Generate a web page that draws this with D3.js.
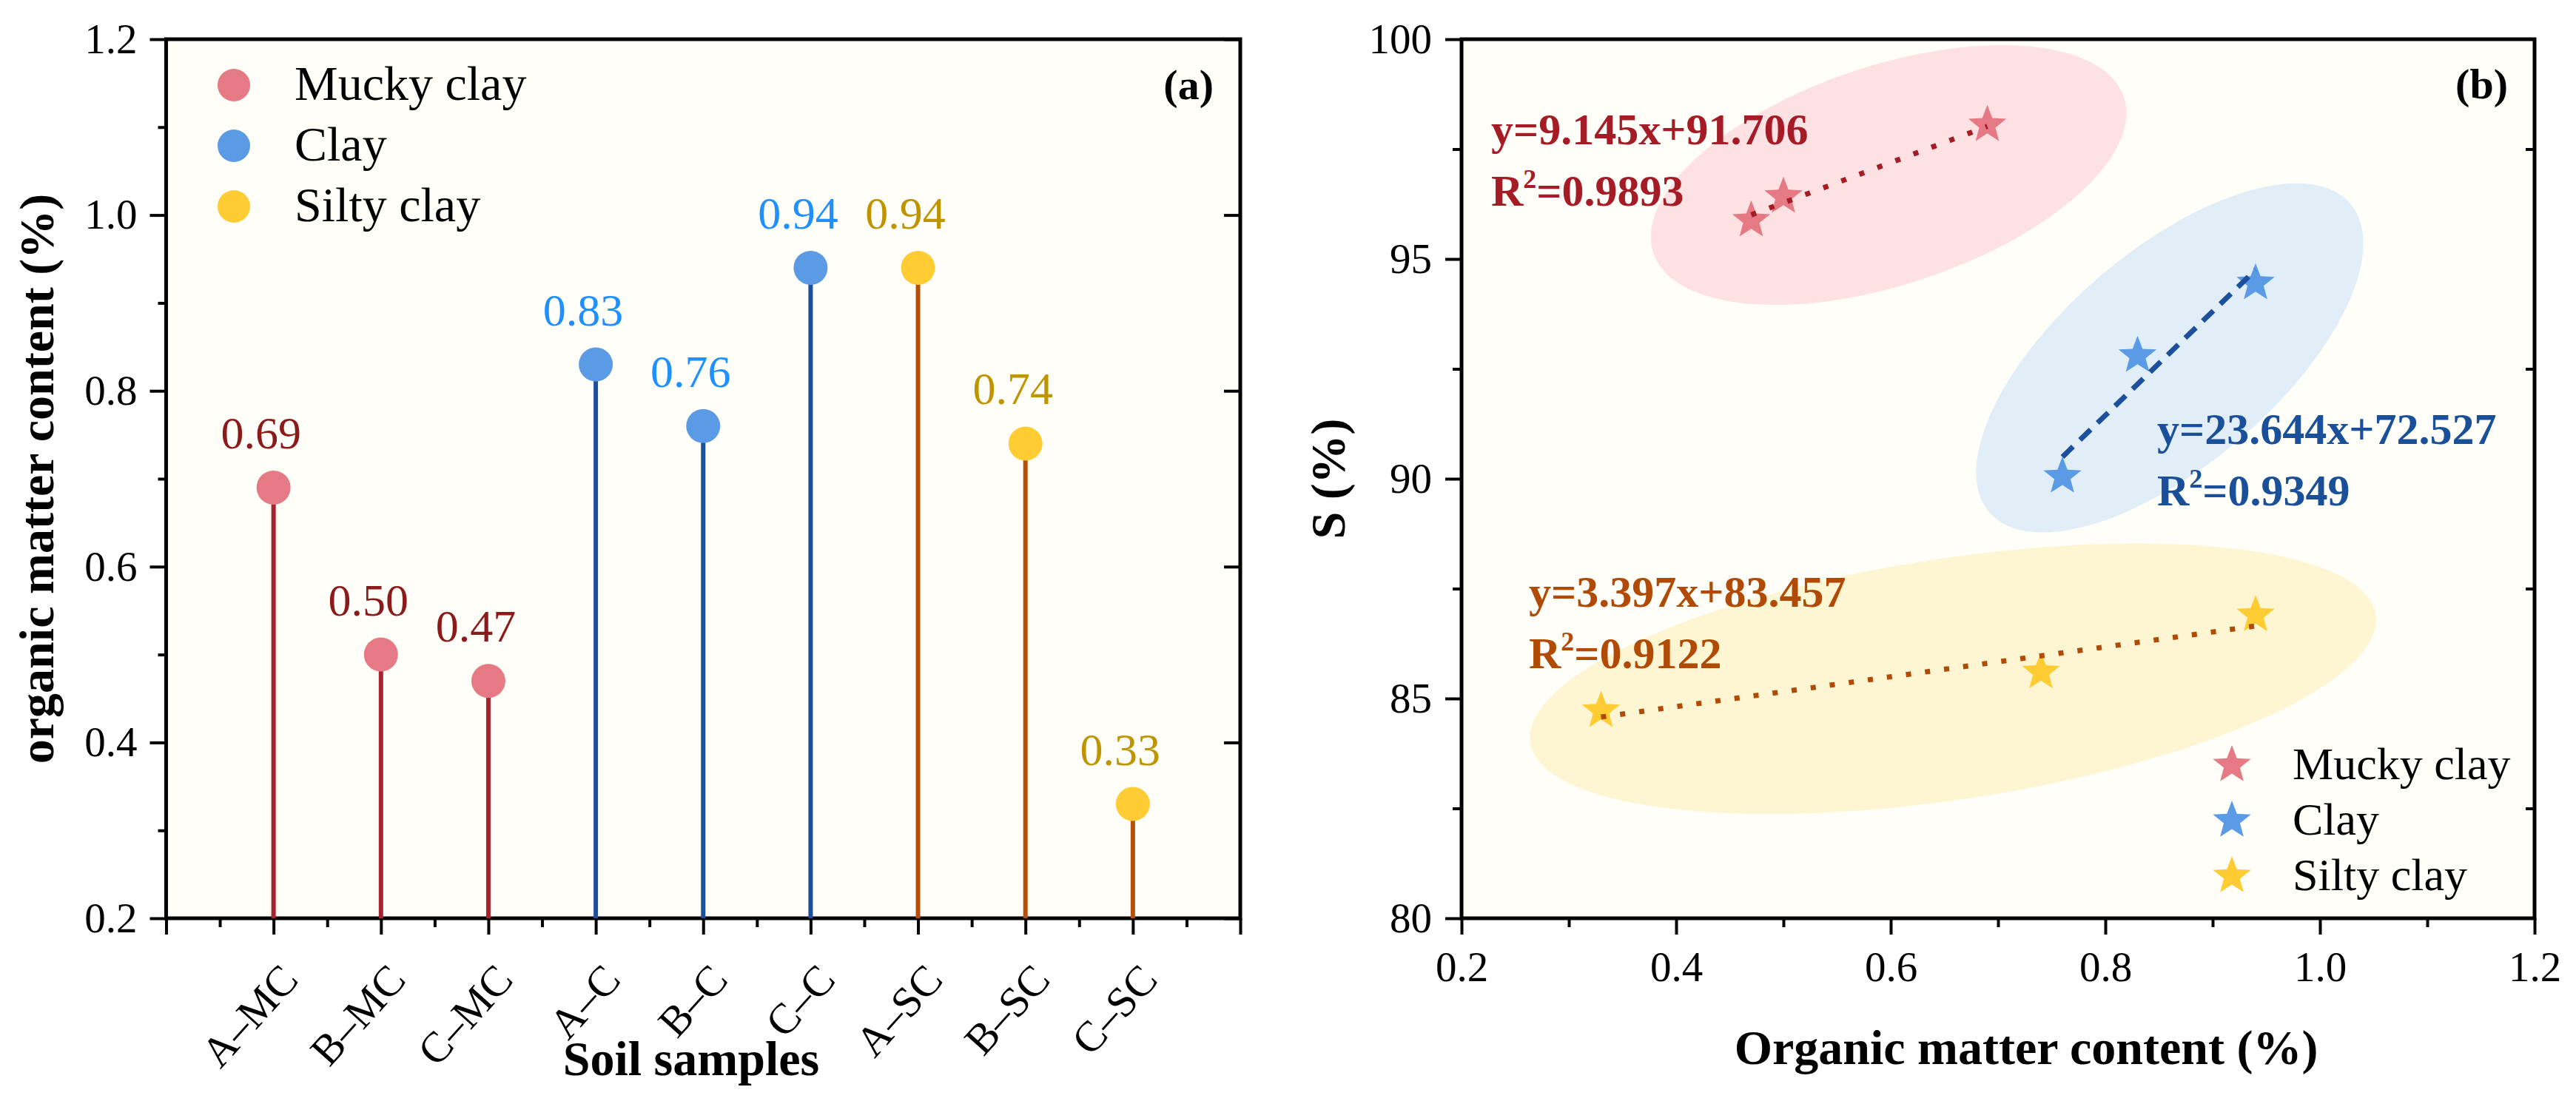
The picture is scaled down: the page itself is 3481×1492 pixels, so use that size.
<!DOCTYPE html>
<html>
<head>
<meta charset="utf-8">
<script src="https://cdn.jsdelivr.net/npm/d3@7"></script>
<style>
  html, body { margin: 0; padding: 0; background: #fff; overflow: hidden; }
  text { font-family: "Liberation Serif", "Times New Roman", serif; }
</style>
</head>
<body>
<div id="chart"></div>
<script>
// ---- data ----
var categories = ["A\u2013MC", "B\u2013MC", "C\u2013MC", "A\u2013C", "B\u2013C", "C\u2013C", "A\u2013SC", "B\u2013SC", "C\u2013SC"];
var omValues = [0.69, 0.50, 0.47, 0.83, 0.76, 0.94, 0.94, 0.74, 0.33];   // organic matter content (%)
var sValues = [98.05, 96.42, 95.88, 92.80, 90.05, 94.45, 86.90, 85.60, 84.72]; // S (%)
var groupOf = [0, 0, 0, 1, 1, 1, 2, 2, 2];
var groupNames = ["Mucky clay", "Clay", "Silty clay"];

var fitSlope = [9.145, 23.644, 3.397];
var fitIntercept = [91.706, 72.527, 83.457];
var fitR2 = ["0.9893", "0.9349", "0.9122"];

// ellipses: centre, major half-axis vector (data units), minor/major ratio
var ellCx = [0.598, 0.860, 0.658];
var ellCy = [96.91, 92.75, 85.45];
var ellAx = [0.2193, 0.1683, 0.394];
var ellAy = [1.771, 3.51, 1.455];
var ellRatio = [0.442, 0.452, 0.282];

var yTicksA = [0.2, 0.4, 0.6, 0.8, 1.0, 1.2];
var yMinorA = [0.3, 0.5, 0.7, 0.9, 1.1];
var xTicksB = [0.2, 0.4, 0.6, 0.8, 1.0, 1.2];
var xMinorB = [0.3, 0.5, 0.7, 0.9, 1.1];
var yTicksB = [80, 85, 90, 95, 100];
var yMinorB = [82.5, 87.5, 92.5, 97.5];

// ---- styles ----
var markerColors = ["#E57A85", "#5B9BE6", "#FFCC33"];
var stemColors = ["#A8232E", "#1C4F9C", "#B4500A"];
var valueColors = ["#8B1A1A", "#1E90FF", "#BE9400"];
var fitColors = ["#A51C26", "#1A4F9A", "#B04A05"];
var lineColors = ["#A51C26", "#1C4F9C", "#B04A05"];
var ellFills = ["#FDE1E3", "#E2EEF7", "#FEF6D2"];
var fitDash = ["7,19", "20,13", "7,19"];
var plotBg = "#FFFEF8";

var W = 3481, H = 1492;
var svg = d3.select("#chart").append("svg").attr("width", W).attr("height", H);
svg.append("rect").attr("width", W).attr("height", H).attr("fill", "#fff");

var A = {left: 224.5, right: 1676, top: 53, bottom: 1241};
var B = {left: 1975, right: 3425, top: 53, bottom: 1241};

var xa = d3.scaleLinear().domain([0, 10]).range([A.left, A.right]);
var ya = d3.scaleLinear().domain([0.2, 1.2]).range([A.bottom, A.top]);
var xb = d3.scaleLinear().domain([0.2, 1.2]).range([B.left, B.right]);
var yb = d3.scaleLinear().domain([80, 100]).range([B.bottom, B.top]);

function styleAxis(g, fs) {
    g.select(".domain").remove();
    g.selectAll(".tick line").attr("stroke", "#000").attr("stroke-width", 4);
    g.selectAll(".tick text").attr("fill", "#000").style("font-size", fs + "px")
        .style("font-family", '"Liberation Serif", "Times New Roman", serif');
}

function starPath(R, r) {
    var p = [];
    for (var i = 0; i < 10; i++) {
        var ang = -Math.PI / 2 + i * Math.PI / 5, rr = i % 2 ? r : R;
        p.push([rr * Math.cos(ang), rr * Math.sin(ang)]);
    }
    return "M" + p.map(function(d) { return d[0].toFixed(2) + "," + d[1].toFixed(2); }).join("L") + "Z";
}

// ================= panel (a) =================
var ga = svg.append("g");
ga.append("rect").attr("x", A.left).attr("y", A.top).attr("width", A.right - A.left)
    .attr("height", A.bottom - A.top).attr("fill", plotBg);

// axes
ga.append("g").attr("transform", "translate(" + A.left + ",0)")
    .call(d3.axisLeft(ya).tickValues(yTicksA).tickSize(22).tickPadding(17).tickFormat(d3.format(".1f")))
    .call(styleAxis, 57);
ga.append("g").attr("transform", "translate(" + A.left + ",0)")
    .call(d3.axisLeft(ya).tickValues(yMinorA).tickSize(11).tickFormat(""))
    .call(styleAxis, 57);
ga.append("g").attr("transform", "translate(" + A.right + ",0)")
    .call(d3.axisLeft(ya).tickValues(yTicksA).tickSize(22).tickFormat(""))
    .call(styleAxis, 57);
ga.append("g").attr("transform", "translate(0," + A.bottom + ")")
    .call(d3.axisBottom(xa).tickValues(d3.range(0, 11)).tickSize(22).tickFormat(""))
    .call(styleAxis, 57);
ga.append("g").attr("transform", "translate(0," + A.bottom + ")")
    .call(d3.axisBottom(xa).tickValues(d3.range(0.5, 10, 1)).tickSize(12).tickFormat(""))
    .call(styleAxis, 57);

ga.append("rect").attr("x", A.left).attr("y", A.top).attr("width", A.right - A.left)
    .attr("height", A.bottom - A.top).attr("fill", "none").attr("stroke", "#000").attr("stroke-width", 5);

// rotated category labels
ga.selectAll("text.cat").data(categories).enter().append("text").attr("class", "cat")
    .attr("transform", function(d, i) { return "translate(" + (xa(i + 1) + 36) + "," + (A.bottom + 85) + ") rotate(-48)"; })
    .attr("text-anchor", "end").style("font-size", "58px").text(function(d) { return d; });

// stems and heads
ga.selectAll("line.stem").data(omValues).enter().append("line").attr("class", "stem")
    .attr("x1", function(d, i) { return xa(i + 1); }).attr("x2", function(d, i) { return xa(i + 1); })
    .attr("y1", ya(0.2)).attr("y2", function(d) { return ya(d); })
    .attr("stroke", function(d, i) { return stemColors[groupOf[i]]; }).attr("stroke-width", 6);
ga.selectAll("circle.head").data(omValues).enter().append("circle").attr("class", "head")
    .attr("cx", function(d, i) { return xa(i + 1); }).attr("cy", function(d) { return ya(d); })
    .attr("r", 23).attr("fill", function(d, i) { return markerColors[groupOf[i]]; });
ga.selectAll("text.val").data(omValues).enter().append("text").attr("class", "val")
    .attr("x", function(d, i) { return xa(i + 1) - 17; }).attr("y", function(d) { return ya(d) - 53; })
    .attr("text-anchor", "middle").style("font-size", "62px")
    .attr("fill", function(d, i) { return valueColors[groupOf[i]]; })
    .text(function(d) { return d3.format(".2f")(d); });

// legend (a)
var la = ga.append("g");
groupNames.forEach(function(name, k) {
    var y = 115 + k * 82;
    la.append("circle").attr("cx", 316).attr("cy", y).attr("r", 22).attr("fill", markerColors[k]);
    la.append("text").attr("x", 398).attr("y", y + 20).style("font-size", "66px").text(name);
});
ga.append("text").attr("x", 1640).attr("y", 134).attr("text-anchor", "end")
    .style("font-size", "58px").style("font-weight", "bold").text("(a)");

// axis titles
ga.append("text").attr("transform", "translate(72," + ((A.top + A.bottom) / 2) + ") rotate(-90)")
    .attr("text-anchor", "middle").style("font-size", "66px").style("font-weight", "bold")
    .text("organic matter content (%)");
ga.append("text").attr("x", 934).attr("y", 1453).attr("text-anchor", "middle")
    .style("font-size", "66px").style("font-weight", "bold").text("Soil samples");

// ================= panel (b) =================
var gb = svg.append("g");
gb.append("rect").attr("x", B.left).attr("y", B.top).attr("width", B.right - B.left)
    .attr("height", B.bottom - B.top).attr("fill", plotBg);
svg.append("clipPath").attr("id", "clipB").append("rect")
    .attr("x", B.left).attr("y", B.top).attr("width", B.right - B.left).attr("height", B.bottom - B.top);

var plotB = gb.append("g").attr("clip-path", "url(#clipB)");

// ellipses
ellCx.forEach(function(cx, k) {
    var px = xb(cx), py = yb(ellCy[k]);
    var vx = xb(cx + ellAx[k]) - px, vy = yb(ellCy[k] + ellAy[k]) - py;
    var a = Math.hypot(vx, vy), ang = Math.atan2(vy, vx) * 180 / Math.PI;
    plotB.append("ellipse").attr("transform", "translate(" + px + "," + py + ") rotate(" + ang + ")")
        .attr("rx", a).attr("ry", a * ellRatio[k]).attr("fill", ellFills[k]);
});

// stars
plotB.selectAll("path.star").data(omValues).enter().append("path").attr("class", "star")
    .attr("d", starPath(27, 11.5))
    .attr("transform", function(d, i) { return "translate(" + xb(d) + "," + yb(sValues[i]) + ")"; })
    .attr("fill", function(d, i) { return markerColors[groupOf[i]]; });

// fit lines, drawn over the group's x range
groupNames.forEach(function(name, k) {
    var xs = omValues.filter(function(d, i) { return groupOf[i] === k; });
    var x0 = d3.min(xs), x1 = d3.max(xs);
    plotB.append("line")
        .attr("x1", xb(x0)).attr("y1", yb(fitSlope[k] * x0 + fitIntercept[k]))
        .attr("x2", xb(x1)).attr("y2", yb(fitSlope[k] * x1 + fitIntercept[k]))
        .attr("stroke", lineColors[k])
        .attr("stroke-width", 7).attr("stroke-dasharray", fitDash[k]);
});

// equations
var eqPos = [[2015, 195], [2915, 600], [2066, 820]];
groupNames.forEach(function(name, k) {
    gb.append("text").attr("x", eqPos[k][0]).attr("y", eqPos[k][1])
        .style("font-size", "60px").style("font-weight", "bold").attr("fill", fitColors[k])
        .text("y=" + fitSlope[k] + "x+" + fitIntercept[k]);
    var r = gb.append("text").attr("x", eqPos[k][0]).attr("y", eqPos[k][1] + 83)
        .style("font-size", "60px").style("font-weight", "bold").attr("fill", fitColors[k]);
    r.append("tspan").text("R");
    r.append("tspan").attr("dy", -24).style("font-size", "36px").text("2");
    r.append("tspan").attr("dy", 24).text("=" + fitR2[k]);
});

// axes (b)
gb.append("g").attr("transform", "translate(" + B.left + ",0)")
    .call(d3.axisLeft(yb).tickValues(yTicksB).tickSize(22).tickPadding(18).tickFormat(d3.format("d")))
    .call(styleAxis, 57);
gb.append("g").attr("transform", "translate(" + B.left + ",0)")
    .call(d3.axisLeft(yb).tickValues(yMinorB).tickSize(12).tickFormat(""))
    .call(styleAxis, 57);
gb.append("g").attr("transform", "translate(" + B.right + ",0)")
    .call(d3.axisLeft(yb).tickValues(yMinorB).tickSize(12).tickFormat(""))
    .call(styleAxis, 57);
gb.append("g").attr("transform", "translate(0," + B.bottom + ")")
    .call(d3.axisBottom(xb).tickValues(xTicksB).tickSize(22).tickPadding(23).tickFormat(d3.format(".1f")))
    .call(styleAxis, 57);
gb.append("g").attr("transform", "translate(0," + B.bottom + ")")
    .call(d3.axisBottom(xb).tickValues(xMinorB).tickSize(12).tickFormat(""))
    .call(styleAxis, 57);

gb.append("rect").attr("x", B.left).attr("y", B.top).attr("width", B.right - B.left)
    .attr("height", B.bottom - B.top).attr("fill", "none").attr("stroke", "#000").attr("stroke-width", 5);

// legend (b)
groupNames.forEach(function(name, k) {
    var y = 1034 + k * 75;
    gb.append("path").attr("d", starPath(27, 11.5)).attr("transform", "translate(3016," + y + ")")
        .attr("fill", markerColors[k]);
    gb.append("text").attr("x", 3098).attr("y", y + 19).style("font-size", "62px").text(name);
});
gb.append("text").attr("x", 3389).attr("y", 133).attr("text-anchor", "end")
    .style("font-size", "58px").style("font-weight", "bold").text("(b)");

gb.append("text").attr("transform", "translate(1817," + ((B.top + B.bottom) / 2) + ") rotate(-90)")
    .attr("text-anchor", "middle").style("font-size", "66px").style("font-weight", "bold").text("S (%)");
gb.append("text").attr("x", 2738).attr("y", 1438).attr("text-anchor", "middle")
    .style("font-size", "66px").style("font-weight", "bold").text("Organic matter content (%)");
</script>
</body>
</html>
